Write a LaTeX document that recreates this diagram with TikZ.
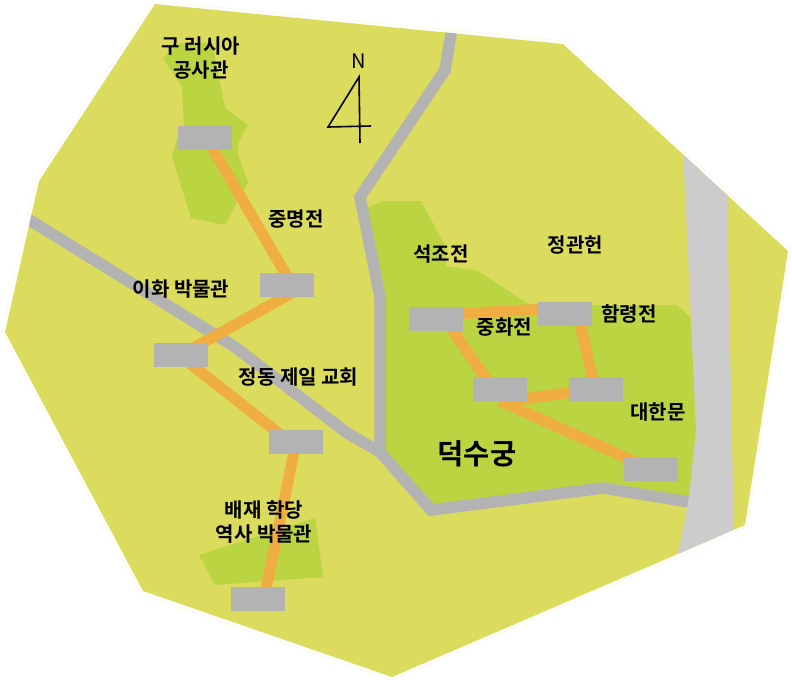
\documentclass[tikz,border=0pt]{standalone}
\usepackage{fontspec}
\setmainfont{Noto Sans CJK KR}[BoldFont={Noto Sans CJK KR Bold}]
\usetikzlibrary{backgrounds}
\definecolor{mapyellow}{HTML}{DBDB5D}
\definecolor{mapgreen}{HTML}{BBD442}
\definecolor{mapgray}{HTML}{B3B3B3}
\definecolor{mapriver}{HTML}{CCCCCC}
\definecolor{maporange}{HTML}{F0AD41}
\tikzset{
    stop/.style={fill=mapgray, minimum width=54pt, minimum height=24pt, inner sep=0pt},
    walk/.style={draw=maporange, line width=11pt},
    road/.style={draw=mapgray, line width=11.5pt, miter limit=10},
    place/.style={font=\fontsize{20}{24}\selectfont\bfseries, align=center, inner sep=0pt},
    lawn/.style={fill=mapgreen},
}
\begin{document}
\begin{tikzpicture}[x=1pt, y=-1pt]
                    \useasboundingbox (0,0) rectangle (792,681);

                    \node[stop] (ru) at (204.5,138) {};
                    \node[stop] (jm) at (287,285) {};
                    \node[stop] (eh) at (181,355) {};
                    \node[stop] (jd) at (296,442) {};
                    \node[stop] (pj) at (258,599) {};
                    \node[stop] (sj) at (436,319) {};
                    \node[stop] (hn) at (564.5,314) {};
                    \node[stop] (jh) at (500,389) {};
                    \node[stop] (gm) at (596,389) {};
                    \node[stop] (dh) at (651,469) {};

                    \begin{scope}[on background layer]
                        \draw[mapyellow!20, line width=0.6pt] (154,1) -- (564,41) -- (791,250) -- (747,527) -- (392,680) -- (141,594) -- (2,332) -- (36,180) -- cycle;
                        \fill[mapyellow] (155,4) -- (563,44) -- (788,251) -- (745,525) -- (392,677) -- (143,591) -- (5,332) -- (39,181) -- cycle;
                        \fill[lawn] (180,43) -- (212,43) -- (225,108) -- (248,125) -- (238,143) -- (238,155) -- (248,182) -- (225,225) -- (191,218) -- (172,156) -- (178,135) -- (184,126) -- (182,87) -- (163,58) -- cycle;
                        \fill[lawn] (199,555) -- (315,518) -- (323,577) -- (215,585) -- cycle;
                        \fill[lawn] (367,208) -- (383,201) -- (421,201) -- (446,248) -- (446,266) -- (478,271) -- (530,305) -- (677,305) -- (691,318) -- (700,430) -- (695,500) -- (603,488) -- (431,510) -- (380,452) -- (380,297) -- cycle;
                        \begin{scope}
                            \clip (155,4) -- (563,44) -- (788,251) -- (745,525) -- (392,677) -- (143,591) -- (5,332) -- (39,181) -- cycle;
                            \draw[road] (453,22) -- (445,70) -- (360,197) -- (380,297) -- (380,452) -- (431,510) -- (603,488) -- (695,503);
                            \draw[road] (15,211) -- (235,347) -- (347,433) -- (380,452);
                            \fill[mapriver] (683,150) -- (728,190) -- (728,250) -- (734,535) -- (676,560) -- (683,530) -- (689,497) -- (696,430) -- (691,320) -- cycle;
                        \end{scope}
                        \draw[walk] ([xshift=2pt]ru.center) -- ([xshift=5pt]jm.center);
                        \draw[walk] ([xshift=19pt]jm.center) -- (eh.center);
                        \draw[walk] ([xshift=-2pt]eh.center) -- ([xshift=-6pt]jd.center);
                        \draw[walk] (jd.center) -- ([xshift=6pt]pj.center);
                        \draw[walk] ([yshift=4pt]sj.center) -- ([yshift=6pt]hn.center);
                        \draw[walk] ([xshift=9pt]sj.center) -- ([xshift=-7pt]jh.center);
                        \draw[walk] ([xshift=13.5pt]hn.center) -- ([xshift=-1pt]gm.center);
                        \draw[walk] ([yshift=-13pt]jh.center) -- (gm.center);
                        \draw[walk] ([yshift=-12pt]jh.center) -- (dh.center);
                    \end{scope}

                    \node[place] (l1) at (201,58) {구 러시아\\공사관};
                    \node[place] (l2) at (296,219) {중명전};
                    \node[place] (l3) at (181,289) {이화 박물관};
                    \node[place] (l4) at (298.5,377) {정동 제일 교회};
                    \node[place] (l5) at (264,522) {배재 학당\\역사 박물관};
                    \node[place] (l6) at (441,254) {석조전};
                    \node[place] (l7) at (575.5,245) {정관헌};
                    \node[place] (l8) at (629,314) {함령전};
                    \node[place] (l9) at (504.5,327) {중화전};
                    \node[place] (l10) at (658,412) {대한문};
                    \node[place, font=\fontsize{28.5}{32}\selectfont\bfseries] (l11) at (477,454) {덕수궁};

                    \node[inner sep=0pt, font=\fontsize{20}{24}\selectfont] (north) at (359,61) {N};
                    \coordinate (tip) at (359,77);
                    \coordinate (barl) at (328,127);
                    \coordinate (barr) at (371,126);
                    \coordinate (foot) at (360,143);
                    \draw[line width=1.6pt] (foot) -- (tip) -- (barl) -- (barr);
\end{tikzpicture}
\end{document}
